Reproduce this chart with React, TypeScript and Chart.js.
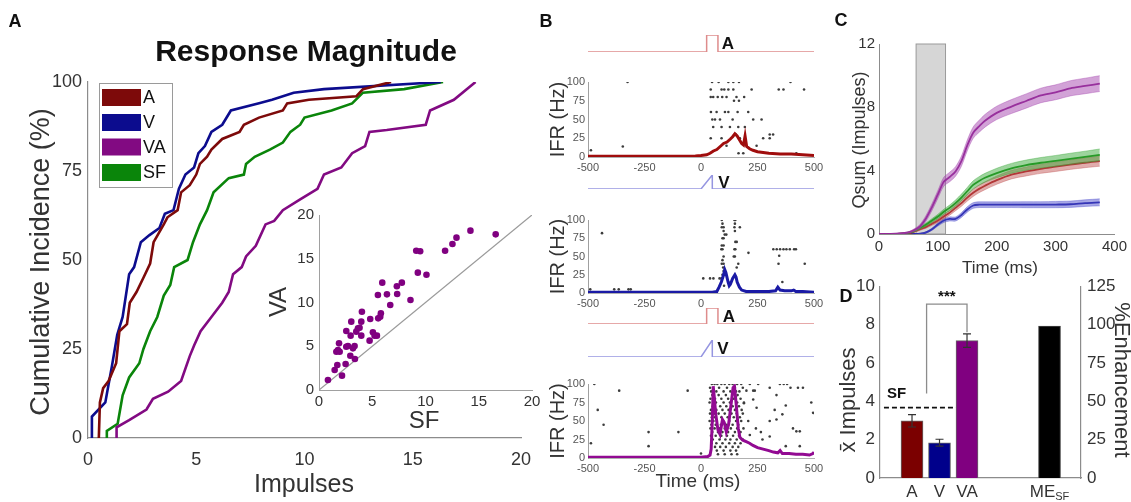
import React, { useEffect, useRef } from "react";
import { Chart, registerables } from "chart.js";

Chart.register(...registerables);

const FONT = "'Liberation Sans', Arial, Helvetica, sans-serif";
Chart.defaults.font.family = FONT;
Chart.defaults.color = "#333";

// ================= Panel A : cumulative incidence =================
const legendLabels = ["A", "V", "VA", "SF"];
const seriesColors = ["#7d0a0a", "#0c0c8e", "#820a82", "#0a850a"];

const cdfA_x = [0.5, 0.55, 0.7, 0.95, 1.3, 1.45, 1.8, 1.93, 2.24, 2.56, 2.87, 3.03, 3.5, 3.67, 4.14, 4.3, 4.7, 5.0, 5.17, 5.5, 5.7, 6.2, 7.0, 7.2, 7.9, 9.0, 9.2, 10.2, 12.4, 12.7, 14.0];
const cdfA_y = [0, 10, 14, 16, 21, 30, 32, 38, 41, 45, 49, 55, 60, 62, 64, 69, 71, 74, 77, 79, 81, 84, 86, 88, 90, 92, 94, 95, 96, 98, 100];
const cdfV_x = [0.16, 0.18, 0.8, 0.95, 1.1, 1.35, 1.6, 1.9, 2.13, 2.44, 2.84, 3.3, 3.55, 3.95, 4.2, 4.5, 4.9, 5.1, 5.4, 5.7, 6.2, 6.6, 7.9, 8.5, 9.5, 10.9, 16.3];
const cdfV_y = [0, 6, 10, 15, 20, 29, 34, 46, 48, 55, 57, 59, 63, 64, 70, 74, 76, 80, 82, 86, 88, 92, 94, 95, 97, 98, 100];
const cdfVA_x = [1.3, 1.32, 1.9, 2.7, 3.0, 3.7, 4.3, 4.7, 4.9, 5.2, 5.7, 6.2, 6.5, 6.7, 7.1, 7.3, 7.75, 8.2, 8.6, 9.0, 9.8, 10.6, 10.9, 11.7, 12.2, 12.8, 13.0, 13.8, 15.6, 15.8, 16.9, 17.9];
const cdfVA_y = [0, 3, 5, 8, 11, 13, 16, 23, 26, 30, 34, 38, 41, 46, 48, 51, 54, 60, 61, 64, 67, 70, 74, 76, 80, 82, 86, 86.5, 88, 92, 95, 100];
const cdfSF_x = [0.85, 0.87, 1.37, 1.6, 1.9, 2.37, 2.56, 2.87, 3.2, 3.5, 3.8, 3.98, 4.6, 4.85, 5.17, 5.5, 5.8, 6.5, 7.2, 7.3, 7.7, 8.4, 9.0, 9.35, 9.8, 10.0, 11.25, 12.2, 12.7, 14.6, 16.4];
const cdfSF_y = [0, 2, 4, 12, 17, 21, 25, 30, 34, 40, 43, 48, 50, 55, 60, 64, 69, 73, 74, 77, 79, 81, 83, 86, 88, 90, 92, 94, 97, 98, 100];
const cdfX = [cdfA_x, cdfV_x, cdfVA_x, cdfSF_x];
const cdfY = [cdfA_y, cdfV_y, cdfVA_y, cdfSF_y];

// inset scatter (SF vs VA)
const insetSF = [0.84, 1.47, 1.72, 2.16, 1.63, 1.94, 1.78, 1.88, 2.56, 2.72, 2.5, 2.94, 3.34, 3.19, 3.37, 2.56, 2.97, 3.03, 3.5, 3.66, 3.81, 3.97, 3.97, 4.03, 4.81, 4.75, 5.06, 5.22, 5.44, 5.53, 5.56, 5.75, 5.81, 5.94, 6.38, 6.69, 7.31, 7.34, 7.78, 8.59, 9.13, 9.5, 9.28, 10.09, 11.84, 12.53, 12.91, 14.22, 16.59];
const insetVA = [1.14, 2.29, 2.86, 1.64, 4.38, 4.38, 4.57, 5.33, 4.95, 5.03, 2.97, 3.92, 5.03, 4.76, 3.54, 6.74, 6.21, 7.81, 6.67, 7.05, 7.12, 7.81, 6.21, 8.95, 8.11, 5.64, 6.59, 6.21, 6.21, 10.86, 8.19, 8.38, 8.76, 12.27, 10.93, 9.71, 11.85, 10.97, 12.27, 10.29, 15.92, 15.85, 13.41, 13.18, 15.92, 16.69, 17.41, 18.21, 17.79];
const identityRange = [0, 20];

// ================= Panel B : rasters + IFR =================
const ifrTickStep = 250;
const rasterA = [
  [-487, 9], [-346, 14], [-325, 100],
  [49, 100], [78, 100], [121, 100], [143, 100], [168, 100], [396, 100],
  [43, 90], [91, 90], [103, 90], [121, 90], [143, 90], [224, 90], [344, 90], [365, 90], [456, 90],
  [43, 80], [54, 80], [74, 80], [94, 80], [113, 80], [157, 80], [191, 80],
  [146, 75], [168, 75],
  [44, 60], [69, 60], [106, 60], [121, 60], [162, 60], [209, 60],
  [50, 50], [62, 50], [84, 50], [140, 50], [231, 50], [268, 50],
  [54, 40], [91, 40], [128, 40], [165, 40], [194, 40],
  [154, 30], [304, 30], [319, 30],
  [43, 25], [91, 25], [172, 25], [275, 25], [304, 25],
  [113, 15], [246, 15],
  [166, 5], [187, 5], [422, 5],
];
const ifrTimeA = [-500, -400, -300, -200, -100, -25, 0, 25, 40, 55, 70, 85, 100, 115, 130, 140, 150, 160, 170, 180, 188, 195, 202, 215, 230, 250, 275, 300, 350, 400, 450, 500];
const ifrRateA = [1, 1, 1, 1, 1, 1.5, 2, 3, 5, 8, 10, 14, 18, 20, 24, 27, 31, 28, 23, 18, 16, 28, 14, 11, 9, 7, 6, 5, 4, 4, 3, 2];

const rasterV = [
  [-490, 5], [-438, 82], [-384, 5], [-364, 5], [-321, 5], [-311, 5],
  [10, 20], [40, 20], [55, 20], [82, 20], [90, 20],
  [92, 100], [148, 100], [152, 100], [95, 95], [150, 95], [92, 90], [100, 90], [148, 90], [172, 90],
  [100, 85], [150, 85], [105, 80], [112, 80], [95, 75], [100, 75], [152, 70], [158, 70], [92, 65], [100, 65],
  [90, 60], [95, 60], [148, 60], [152, 60], [210, 55], [100, 50], [145, 50], [150, 50], [95, 45],
  [92, 40], [100, 40], [165, 40], [98, 35], [158, 35], [100, 30], [95, 25], [105, 25], [102, 10],
  [320, 60], [335, 60], [350, 60], [365, 60], [378, 60], [393, 60], [412, 60], [420, 60],
  [346, 51], [343, 40], [360, 15], [459, 40],
];
const ifrTimeV = [-500, -400, -300, -200, -100, 0, 50, 70, 80, 90, 100, 105, 110, 120, 125, 130, 140, 150, 155, 160, 170, 180, 200, 250, 300, 330, 340, 350, 370, 400, 410, 420, 450, 500];
const ifrRateV = [1, 1, 1, 1, 1, 1, 1, 2, 8, 15, 25, 32, 28, 15, 10, 12, 20, 25, 22, 15, 8, 4, 2, 2, 2, 3, 8, 4, 3, 3, 4, 2, 2, 1];

const rasterVA = [
  [-487, 20], [-472, 100], [-457, 65], [-431, 45], [-362, 91], [-232, 35], [-232, 16], [-100, 35], [-59, 91], [0, 6],
  [48, 100], [60, 100], [72, 100], [90, 100], [105, 100], [125, 100], [140, 100], [160, 100], [178, 100],
  [40, 95], [80, 95], [115, 95], [150, 95], [185, 95],
  [45, 90], [68, 90], [100, 90], [130, 90], [155, 90], [170, 90],
  [50, 85], [78, 85], [110, 85], [138, 85], [162, 85],
  [42, 80], [62, 80], [90, 80], [120, 80], [145, 80], [175, 80],
  [38, 75], [66, 75], [100, 75], [128, 75], [160, 75], [190, 75],
  [52, 70], [85, 70], [112, 70], [140, 70], [168, 70],
  [44, 65], [68, 65], [95, 65], [122, 65], [150, 65], [180, 65],
  [40, 60], [58, 60], [78, 60], [105, 60], [135, 60], [158, 60], [185, 60],
  [48, 55], [62, 55], [90, 55], [118, 55], [145, 55], [172, 55],
  [38, 50], [55, 50], [70, 50], [98, 50], [125, 50], [155, 50], [178, 50],
  [46, 45], [65, 45], [88, 45], [112, 45], [140, 45], [165, 45],
  [42, 40], [60, 40], [80, 40], [105, 40], [132, 40], [160, 40], [188, 40],
  [50, 35], [75, 35], [95, 35], [120, 35], [150, 35], [175, 35],
  [44, 30], [65, 30], [90, 30], [115, 30], [142, 30], [168, 30],
  [52, 25], [82, 25], [108, 25], [130, 25], [158, 25], [185, 25],
  [46, 20], [68, 20], [95, 20], [125, 20], [150, 20], [175, 20],
  [62, 15], [85, 15], [110, 15], [140, 15], [165, 15],
  [70, 10], [100, 10], [130, 10], [155, 10],
  [75, 5], [105, 5], [135, 5], [160, 5],
  [216, 100], [253, 100], [304, 95], [349, 100], [366, 100], [381, 100], [396, 95], [429, 95], [451, 95],
  [201, 91], [231, 91], [238, 91], [334, 85], [231, 79], [190, 74], [246, 68], [326, 65], [488, 75], [496, 61], [360, 59], [375, 71],
  [209, 50], [304, 50], [334, 52], [243, 40], [407, 40], [422, 36], [437, 36], [265, 35], [304, 29], [216, 31], [272, 25], [437, 16], [375, 16],
];
const ifrTimeVA = [-500, -200, 0, 30, 40, 45, 50, 54, 58, 65, 75, 84, 95, 103, 112, 122, 132, 142, 148, 155, 165, 172, 185, 200, 215, 230, 250, 275, 300, 320, 340, 350, 360, 390, 420, 450, 480, 495, 500];
const ifrRateVA = [1, 1, 1, 2, 4, 12, 50, 97, 85, 60, 38, 32, 52, 48, 35, 45, 70, 95, 97, 75, 40, 28, 24, 22, 20, 17, 14, 12, 10, 8, 7, 10, 6, 6, 5, 5, 4, 6, 8];

// stimulus traces
const stimA_t = [-500, 25, 25, 75, 75, 500];
const stimA_y = [0, 0, 1, 1, 0, 0];
const stimV_t = [-500, 0, 50, 50, 500];
const stimV_y = [0, 0, 1, 0, 0];

// ================= Panel C : Qsum =================
const qsumTime = [0, 20, 40, 50, 60, 70, 80, 90, 100, 110, 120, 130, 140, 150, 160, 170, 180, 200, 225, 250, 275, 300, 325, 350, 375];
const qsumVA = [0, 0, 0.05, 0.1, 0.25, 0.5, 1.0, 1.7, 2.5, 3.3, 3.6, 3.95, 4.6, 5.6, 6.4, 6.8, 7.15, 7.65, 8.05, 8.4, 8.75, 8.95, 9.2, 9.35, 9.5];
const qsumSF = [0, 0, 0.03, 0.08, 0.2, 0.4, 0.6, 0.85, 1.1, 1.4, 1.65, 1.95, 2.3, 2.7, 3.1, 3.35, 3.55, 3.85, 4.15, 4.35, 4.5, 4.62, 4.75, 4.87, 5.0];
const qsumA = [0, 0, 0.02, 0.05, 0.15, 0.3, 0.45, 0.65, 0.85, 1.1, 1.35, 1.65, 1.95, 2.3, 2.6, 2.85, 3.05, 3.4, 3.75, 3.95, 4.12, 4.25, 4.38, 4.5, 4.6];
const qsumV = [0, 0, 0, 0, 0, 0.02, 0.1, 0.3, 0.6, 0.85, 0.95, 0.95, 1.2, 1.55, 1.8, 1.85, 1.85, 1.85, 1.85, 1.85, 1.85, 1.86, 1.88, 1.95, 2.0];
const semVA = [0, 0, 0.02, 0.04, 0.08, 0.12, 0.18, 0.22, 0.25, 0.28, 0.3, 0.3, 0.32, 0.34, 0.36, 0.38, 0.4, 0.42, 0.44, 0.45, 0.46, 0.47, 0.48, 0.49, 0.5];
const semSF = [0, 0, 0.01, 0.03, 0.06, 0.08, 0.1, 0.12, 0.14, 0.16, 0.18, 0.2, 0.22, 0.24, 0.26, 0.27, 0.28, 0.3, 0.31, 0.32, 0.33, 0.34, 0.35, 0.36, 0.37];
const semA = [0, 0, 0.01, 0.02, 0.04, 0.06, 0.08, 0.1, 0.12, 0.14, 0.16, 0.18, 0.2, 0.22, 0.23, 0.24, 0.25, 0.26, 0.27, 0.28, 0.29, 0.3, 0.3, 0.31, 0.32];
const semV = [0, 0, 0, 0, 0, 0.01, 0.04, 0.07, 0.1, 0.12, 0.13, 0.13, 0.15, 0.17, 0.18, 0.18, 0.18, 0.18, 0.18, 0.19, 0.19, 0.2, 0.2, 0.21, 0.22];
const stimWindow = [63, 113];

// ================= Panel D : bars =================
const barLabels = ["A", "V", "VA"];
const barPos = [1, 2, 3];
const barMean = [2.98, 1.84, 7.16];
const barErr = [0.32, 0.18, 0.35];
const barColors = ["#7b0000", "#00008b", "#800080"];
const mePos = [6];
const meEnhancement = [99];
const sfMean = 3.67;
const sfSpan = [-0.02, 3.4];
const sigBracketX = [1.53, 1.53, 3.0, 3.0];
const sigBracketY = [4.4, 9.07, 9.07, 7.6];

// ================= helpers =================
type Txt = { t: string; x: number; y: number; size: number; bold?: boolean; color?: string; rot?: number; align?: CanvasTextAlign };

function textPlugin(ox: number, oy: number, items: Txt[]) {
  return {
    id: "txt",
    afterDraw(chart: any) {
      const ctx = chart.ctx;
      items.forEach((it) => {
        ctx.save();
        ctx.translate(it.x - ox, it.y - oy);
        if (it.rot) ctx.rotate((it.rot * Math.PI) / 180);
        ctx.font = `${it.bold ? "bold " : ""}${it.size}px ${FONT}`;
        ctx.fillStyle = it.color || "#222";
        ctx.textAlign = it.align || "center";
        ctx.textBaseline = "middle";
        ctx.fillText(it.t, 0, 0);
        ctx.restore();
      });
    },
  };
}

const fixH = (h: number) => (s: any) => { s.height = h; };
const fixW = (w: number) => (s: any) => { s.width = w; };
const AX = "#8c8c8c";

function baseOpts(cv: any, ar: any, extraRight = 0) {
  return {
    responsive: false,
    maintainAspectRatio: false,
    animation: false,
    devicePixelRatio: 1,
    layout: { padding: { left: 0, top: ar.t - cv.y, right: extraRight ? 0 : cv.x + cv.w - ar.r, bottom: 0 } },
    plugins: { legend: { display: false }, tooltip: { enabled: false } },
  };
}

// ---------- Panel A main ----------
function cfgAMain(cv: any) {
  const ar = { l: 88, t: 82, r: 521, b: 438 };
  const legendPlugin = {
    id: "legA",
    afterDraw(chart: any) {
      const ctx = chart.ctx;
      ctx.save();
      ctx.fillStyle = "#fff";
      ctx.strokeStyle = "#9a9a9a";
      ctx.lineWidth = 1;
      ctx.fillRect(99, 83, 73, 104);
      ctx.strokeRect(99.5, 83.5, 73, 104);
      const rows = [97.5, 122.5, 147, 172.5];
      legendLabels.forEach((l, i) => {
        ctx.fillStyle = seriesColors[i];
        ctx.fillRect(102, rows[i] - 8.5, 39, 17);
        ctx.fillStyle = "#111";
        ctx.font = `18px ${FONT}`;
        ctx.textAlign = "left";
        ctx.textBaseline = "middle";
        ctx.fillText(l, 143, rows[i] + 1);
      });
      ctx.restore();
    },
  };
  return {
    type: "line",
    data: {
      datasets: cdfX.map((xs, i) => ({
        label: legendLabels[i],
        data: xs.map((v, j) => ({ x: v, y: cdfY[i][j] })),
        borderColor: seriesColors[i],
        borderWidth: 2.6,
        pointRadius: 0,
        tension: 0,
        fill: false,
      })),
    },
    options: {
      ...baseOpts(cv, ar),
      scales: {
        x: {
          type: "linear", min: 0, max: 20,
          ticks: { stepSize: 5, font: { size: 18 }, padding: 11, color: "#333" },
          grid: { display: false, drawTicks: false },
          border: { color: AX, width: 1.2 },
          afterFit: fixH(cv.y + cv.h - ar.b),
        },
        y: {
          type: "linear", min: 0, max: 100,
          ticks: { stepSize: 25, font: { size: 18 }, padding: 6, color: "#333" },
          grid: { display: false, drawTicks: false },
          border: { color: AX, width: 1.2 },
          afterFit: fixW(ar.l - cv.x),
        },
      },
    },
    plugins: [
      legendPlugin,
      textPlugin(cv.x, cv.y, [
        { t: "A", x: 15, y: 22, size: 18, bold: true, color: "#111" },
        { t: "Response Magnitude", x: 306, y: 53, size: 30, bold: true, color: "#111" },
        { t: "Cumulative Incidence (%)", x: 42, y: 262, size: 27, rot: -90, color: "#333" },
        { t: "Impulses", x: 304, y: 485, size: 25, color: "#333" },
      ]),
    ],
  };
}

// ---------- Panel A inset ----------
function cfgAInset(cv: any) {
  const ar = { l: 319, t: 215, r: 532, b: 390 };
  return {
    type: "scatter",
    data: {
      datasets: [
        {
          data: insetSF.map((v, i) => ({ x: v, y: insetVA[i] })),
          backgroundColor: "#800080",
          borderColor: "#800080",
          pointRadius: 3.3,
          borderWidth: 0,
        },
        {
          type: "line",
          data: identityRange.map((v) => ({ x: v, y: v })),
          borderColor: "#9a9a9a",
          borderWidth: 1.3,
          pointRadius: 0,
          showLine: true,
        },
      ],
    },
    options: {
      ...baseOpts(cv, ar),
      scales: {
        x: {
          type: "linear", min: 0, max: 20,
          ticks: { stepSize: 5, font: { size: 15 }, padding: 3, color: "#333" },
          grid: { display: false, drawTicks: false },
          border: { color: "#a0a0a0", width: 1 },
          afterFit: fixH(cv.y + cv.h - ar.b),
        },
        y: {
          type: "linear", min: 0, max: 20,
          ticks: { stepSize: 5, font: { size: 15 }, padding: 5, color: "#333" },
          grid: { display: false, drawTicks: false },
          border: { color: "#a0a0a0", width: 1 },
          afterFit: fixW(ar.l - cv.x),
        },
      },
    },
    plugins: [
      textPlugin(cv.x, cv.y, [
        { t: "SF", x: 424, y: 421, size: 24, color: "#333" },
        { t: "VA", x: 279, y: 302, size: 24, rot: -90, color: "#333" },
      ]),
    ],
  };
}

// ---------- Panel B IFR ----------
function cfgB(cv: any, ar: any, raster: number[][], tt: number[], vv: number[], color: string, extra: Txt[]) {
  return {
    type: "scatter",
    data: {
      datasets: [
        {
          type: "line",
          data: tt.map((t, i) => ({ x: t, y: vv[i] })),
          borderColor: color,
          borderWidth: 3,
          pointRadius: 0,
          tension: 0,
          showLine: true,
        },
        {
          data: raster.map((p) => ({ x: p[0], y: p[1] })),
          backgroundColor: "#3c3c3c",
          borderWidth: 0,
          pointRadius: 1.3,
        },
      ],
    },
    options: {
      ...baseOpts(cv, ar),
      scales: {
        x: {
          type: "linear", min: -500, max: 500,
          ticks: { stepSize: ifrTickStep, font: { size: 11 }, padding: 4, color: "#555" },
          grid: { display: false, drawTicks: false },
          border: { color: "#b0b0b0", width: 1 },
          afterFit: fixH(cv.y + cv.h - ar.b),
        },
        y: {
          type: "linear", min: 0, max: 100,
          ticks: { stepSize: 25, font: { size: 11 }, padding: 3, color: "#555" },
          grid: { display: false, drawTicks: false },
          border: { color: "#a0a0a0", width: 1 },
          afterFit: fixW(ar.l - cv.x),
        },
      },
    },
    plugins: [
      textPlugin(cv.x, cv.y, [
        { t: "IFR (Hz)", x: 558, y: (ar.t + ar.b) / 2, size: 20, rot: -90, color: "#333" },
        ...extra,
      ]),
    ],
  };
}

function cfgTrace(cv: any, top: number, bottom: number, xs: number[], ys: number[], color: string, label: string, lx: number, extra: Txt[]) {
  return {
    type: "line",
    data: {
      datasets: [
        {
          data: xs.map((x, i) => ({ x, y: ys[i] })),
          borderColor: color,
          borderWidth: 1.5,
          pointRadius: 0,
          tension: 0,
        },
      ],
    },
    options: {
      responsive: false,
      maintainAspectRatio: false,
      animation: false,
      devicePixelRatio: 1,
      layout: { padding: { left: 588 - cv.x, right: cv.x + cv.w - 814, top: top - cv.y, bottom: cv.y + cv.h - bottom } },
      plugins: { legend: { display: false }, tooltip: { enabled: false } },
      scales: {
        x: { type: "linear", min: -500, max: 500, display: false },
        y: { type: "linear", min: 0, max: 1, display: false },
      },
    },
    plugins: [
      textPlugin(cv.x, cv.y, [
        { t: label, x: lx, y: (top + bottom) / 2 + 1, size: 17, bold: true, color: "#111" },
        ...extra,
      ]),
    ],
  };
}

// ---------- Panel C ----------
function cfgC(cv: any) {
  const ar = { l: 879, t: 44, r: 1118, b: 234 };
  const series = [
    { m: qsumVA, s: semVA, line: "#8b1a8b", band: "rgba(165,70,175,0.5)" },
    { m: qsumSF, s: semSF, line: "#138a13", band: "rgba(60,170,60,0.5)" },
    { m: qsumA, s: semA, line: "#a01414", band: "rgba(195,90,90,0.5)" },
    { m: qsumV, s: semV, line: "#1a1aa0", band: "rgba(80,80,205,0.5)" },
  ];
  const ds: any[] = [];
  series.forEach((se) => {
    ds.push({
      data: qsumTime.map((t, i) => ({ x: t, y: se.m[i] + se.s[i] })),
      borderColor: se.band, borderWidth: 0.8, pointRadius: 0, fill: "+1", backgroundColor: se.band, tension: 0.3,
    });
    ds.push({
      data: qsumTime.map((t, i) => ({ x: t, y: se.m[i] - se.s[i] })),
      borderColor: se.band, borderWidth: 0.8, pointRadius: 0, fill: false, tension: 0.3,
    });
    ds.push({
      data: qsumTime.map((t, i) => ({ x: t, y: se.m[i] })),
      borderColor: se.line, borderWidth: 1.8, pointRadius: 0, fill: false, tension: 0.3,
    });
  });
  const rectPlugin = {
    id: "stimRect",
    beforeDatasetsDraw(chart: any) {
      const { ctx, scales } = chart;
      const x0 = scales.x.getPixelForValue(stimWindow[0]);
      const x1 = scales.x.getPixelForValue(stimWindow[1]);
      const y0 = scales.y.getPixelForValue(0);
      const y1 = scales.y.getPixelForValue(12);
      ctx.save();
      ctx.fillStyle = "#d6d6d6";
      ctx.strokeStyle = "#9a9a9a";
      ctx.lineWidth = 1;
      ctx.fillRect(x0, y1, x1 - x0, y0 - y1);
      ctx.strokeRect(x0, y1, x1 - x0, y0 - y1);
      ctx.restore();
    },
  };
  return {
    type: "line",
    data: { datasets: ds },
    options: {
      ...baseOpts(cv, ar),
      scales: {
        x: {
          type: "linear", min: 0, max: 400,
          ticks: { stepSize: 100, font: { size: 15 }, padding: 4, color: "#333" },
          grid: { display: false, drawTicks: false },
          border: { color: AX, width: 1 },
          afterFit: fixH(cv.y + cv.h - ar.b),
        },
        y: {
          type: "linear", min: 0, max: 12,
          ticks: { stepSize: 4, font: { size: 15 }, padding: 4, color: "#333" },
          grid: { display: false, drawTicks: false },
          border: { color: AX, width: 1 },
          afterFit: fixW(ar.l - cv.x),
        },
      },
    },
    plugins: [
      rectPlugin,
      textPlugin(cv.x, cv.y, [
        { t: "C", x: 841, y: 21, size: 18, bold: true, color: "#111" },
        { t: "Qsum (Impulses)", x: 860, y: 140, size: 18, rot: -90, color: "#333" },
        { t: "Time (ms)", x: 1000, y: 268, size: 17, color: "#333" },
      ]),
    ],
  };
}

// ---------- Panel D ----------
function cfgD(cv: any) {
  const ar = { l: 880, t: 285, r: 1081, b: 478 };
  const extraPlugin = {
    id: "dExtra",
    afterDatasetsDraw(chart: any) {
      const { ctx, scales } = chart;
      const x = scales.x, y = scales.y;
      ctx.save();
      ctx.strokeStyle = "#333";
      ctx.lineWidth = 1.2;
      barPos.forEach((p, i) => {
        const px = x.getPixelForValue(p);
        const yt = y.getPixelForValue(barMean[i] + barErr[i]);
        const yb = y.getPixelForValue(barMean[i] - barErr[i]);
        ctx.beginPath();
        ctx.moveTo(px, yb); ctx.lineTo(px, yt);
        ctx.moveTo(px - 4, yt); ctx.lineTo(px + 4, yt);
        ctx.moveTo(px - 4, yb); ctx.lineTo(px + 4, yb);
        ctx.stroke();
      });
      const sx = (x.getPixelForValue(sigBracketX[1]) + x.getPixelForValue(sigBracketX[2])) / 2;
      const sy = y.getPixelForValue(sigBracketY[1]) - 9;
      ctx.fillStyle = "#111";
      ctx.font = `bold 15px ${FONT}`;
      ctx.textAlign = "center";
      ctx.textBaseline = "middle";
      ctx.fillText("***", sx, sy + 2);
      ctx.font = `bold 15px ${FONT}`;
      ctx.textAlign = "left";
      ctx.fillText("SF", x.getPixelForValue(sfSpan[0]) + 3, y.getPixelForValue(sfMean) - 14);
      const mx = x.getPixelForValue(mePos[0]);
      const ly = 492 - cv.y;
      ctx.font = `17px ${FONT}`;
      ctx.fillStyle = "#333";
      const w1 = ctx.measureText("ME").width;
      ctx.font = `11px ${FONT}`;
      const w2 = ctx.measureText("SF").width;
      const x0 = mx - (w1 + w2) / 2;
      ctx.font = `17px ${FONT}`;
      ctx.fillText("ME", x0, ly);
      ctx.font = `11px ${FONT}`;
      ctx.fillText("SF", x0 + w1, ly + 5);
      ctx.restore();
    },
  };
  return {
    type: "bar",
    data: {
      datasets: [
        {
          type: "bar",
          data: barPos.map((p, i) => ({ x: p, y: barMean[i] })),
          backgroundColor: barColors,
          borderColor: "#666",
          borderWidth: 1,
          barThickness: 22,
          grouped: false,
          yAxisID: "y",
        },
        {
          type: "bar",
          data: mePos.map((p, i) => ({ x: p, y: meEnhancement[i] })),
          backgroundColor: "#000",
          borderColor: "#444",
          borderWidth: 1,
          barThickness: 22,
          grouped: false,
          yAxisID: "y1",
        },
        {
          type: "line",
          data: sfSpan.map((v) => ({ x: v, y: sfMean })),
          borderColor: "#111",
          borderWidth: 1.6,
          borderDash: [5, 3],
          pointRadius: 0,
          yAxisID: "y",
        },
        {
          type: "line",
          data: sigBracketX.map((v, i) => ({ x: v, y: sigBracketY[i] })),
          borderColor: "#8c8c8c",
          borderWidth: 1.3,
          pointRadius: 0,
          tension: 0,
          yAxisID: "y",
        },
      ],
    },
    options: {
      ...baseOpts(cv, ar, 1),
      scales: {
        x: {
          type: "linear", min: -0.164, max: 7.145, offset: false,
          afterBuildTicks: (s: any) => { s.ticks = barPos.map((v) => ({ value: v })); },
          ticks: { font: { size: 17 }, padding: 4, color: "#333", callback: (_v: any, i: number) => barLabels[i] },
          grid: { display: false, drawTicks: false, offset: false },
          border: { color: AX, width: 1.2 },
          afterFit: fixH(cv.y + cv.h - ar.b),
        },
        y: {
          type: "linear", position: "left", min: 0, max: 10,
          ticks: { stepSize: 2, font: { size: 17 }, padding: 5, color: "#333" },
          grid: { display: false, drawTicks: false },
          border: { color: AX, width: 1.2 },
          afterFit: fixW(ar.l - cv.x),
        },
        y1: {
          type: "linear", position: "right", min: 0, max: 125,
          ticks: { stepSize: 25, font: { size: 17 }, padding: 6, color: "#333" },
          grid: { display: false, drawTicks: false },
          border: { color: AX, width: 1.2 },
          afterFit: fixW(cv.x + cv.w - ar.r),
        },
      },
    },
    plugins: [
      extraPlugin,
      textPlugin(cv.x, cv.y, [
        { t: "D", x: 846, y: 297, size: 18, bold: true, color: "#111" },
        { t: "x\u0304 Impulses", x: 849, y: 400, size: 22, rot: -90, color: "#333" },
        { t: "%Enhancement", x: 1121, y: 380, size: 22, rot: 90, color: "#333" },
      ]),
    ],
  };
}

// ---------- assemble ----------
const B1 = { l: 588, t: 82, r: 814, b: 157 };
const B2 = { l: 588, t: 220, r: 814, b: 293 };
const B3 = { l: 588, t: 384, r: 814, b: 458 };

function traceBox(top: number, bottom: number, extraTop: number) {
  return { x: 540, y: top - 6 - extraTop, w: 300, h: bottom - top + 12 + extraTop };
}
function bBox(ar: any, bottomExtra: number) {
  return { x: 540, y: ar.t - 18, w: 300, h: ar.b - (ar.t - 18) + 22 + bottomExtra };
}

const LAYOUT = [
  { x: 0, y: 0, w: 545, h: 502 },
  { x: 262, y: 190, w: 283, h: 250 },
  traceBox(35, 52, 25),
  bBox(B1, 0),
  traceBox(175, 189, 0),
  bBox(B2, 0),
  traceBox(308, 324, 0),
  traceBox(340, 357, 0),
  bBox(B3, 22),
  { x: 835, y: 5, w: 296, h: 277 },
  { x: 835, y: 270, w: 296, h: 232 },
];

function allConfigs() {
  const L = LAYOUT;
  return [
    cfgAMain(L[0]),
    cfgAInset(L[1]),
    cfgTrace(L[2], 35, 52, stimA_t, stimA_y, "rgb(222,140,140)", "A", 728, [{ t: "B", x: 546, y: 22, size: 18, bold: true, color: "#111" }]),
    cfgB(L[3], B1, rasterA, ifrTimeA, ifrRateA, "#a00d0d", []),
    cfgTrace(L[4], 175, 189, stimV_t, stimV_y, "rgb(150,150,225)", "V", 724, []),
    cfgB(L[5], B2, rasterV, ifrTimeV, ifrRateV, "#1a1aa5", []),
    cfgTrace(L[6], 308, 324, stimA_t, stimA_y, "rgb(222,140,140)", "A", 729, []),
    cfgTrace(L[7], 340, 357, stimV_t, stimV_y, "rgb(150,150,225)", "V", 723, []),
    cfgB(L[8], B3, rasterVA, ifrTimeVA, ifrRateVA, "#920a92", [{ t: "Time (ms)", x: 698, y: 482, size: 19, color: "#333" }]),
    cfgC(L[9]),
    cfgD(L[10]),
  ];
}

export default function App() {
  const refs = useRef<(HTMLCanvasElement | null)[]>([]);
  useEffect(() => {
    const cfgs = allConfigs();
    const charts = cfgs.map((c, i) => new Chart(refs.current[i] as HTMLCanvasElement, c as any));
    return () => {
      charts.forEach((c) => c.destroy());
    };
  }, []);
  return (
    <div style={{ position: "absolute", left: 0, top: 0, width: 1131, height: 502, background: "#fff", overflow: "hidden" }}>
      {LAYOUT.map((b, i) => (
        <canvas
          key={i}
          ref={(el) => {
            refs.current[i] = el;
          }}
          width={b.w}
          height={b.h}
          style={{ position: "absolute", left: b.x, top: b.y, width: b.w, height: b.h }}
        />
      ))}
    </div>
  );
}
